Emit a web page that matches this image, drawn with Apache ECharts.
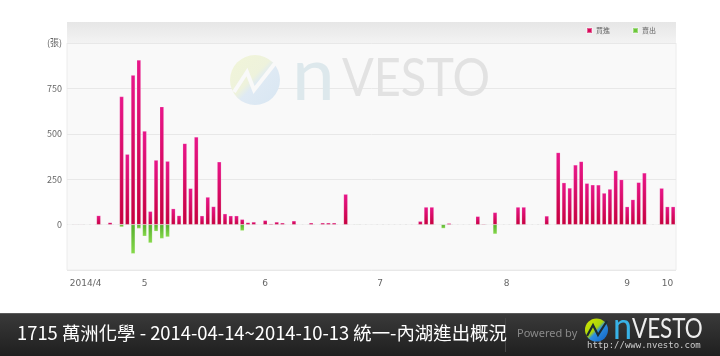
<!DOCTYPE html>
<html>
<head>
<meta charset="utf-8">
<script src="https://cdn.jsdelivr.net/npm/echarts@6/dist/echarts.min.js"></script>
<style>
html,body{margin:0;padding:0;background:#fff;}
#c{width:720px;height:356px;}
</style>
</head>
<body>
<div id="c"></div>
<script>
// Daily buy (買進) and sell (賣出) volumes in 張, one entry per trading-day slot
const buyVals = [
  0, 3, 3, 0, 0, 50, 0, 12, 2, 705,
  388, 823, 906, 515, 73, 355, 649, 349, 88, 50,
  447, 200, 483, 49, 152, 100, 346, 60, 49, 49,
  29, 12, 15, 0, 24, 5, 15, 10, 0, 21,
  0, 0, 10, 0, 10, 10, 10, 0, 168, 0,
  0, 0, 0, 0, 0, 0, 0, 0, 0, 0,
  0, 19, 97, 97, 0, 0, 8, 0, 0, 0,
  2, 46, 4, 0, 67, 0, 2, 0, 97, 97,
  0, 0, 0, 48, 0, 397, 231, 202, 329, 348,
  228, 219, 219, 174, 196, 298, 248, 99, 138, 233,
  285, 0, 0, 201, 99, 99
];
const sellVals = [
  0, 0, 0, 0, 0, 0, 0, 0, 0, -13,
  0, -160, -22, -64, -101, -37, -77, -68, 0, 0,
  0, 0, 0, 0, 0, 0, 0, 0, 0, 0,
  -34, 0, 0, 0, 0, 0, 0, 0, 0, 0,
  0, 0, 0, 0, 0, 0, 0, 0, 0, 0,
  -3, 0, 0, 0, 0, 0, 0, 0, 0, 0,
  0, 0, 0, 0, 0, -21, 0, 0, 0, 0,
  0, 0, 0, 0, -52, 0, 0, 0, 0, 0,
  0, 0, 0, 0, 0, 0, 0, 0, 0, 0,
  0, -2, 0, 0, 0, 0, 0, 0, 0, 0,
  0, 0, 0, 0, 0, 0
];
// x tick labels: [slot index, text]
const monthTicks = [[0, '2014/4'], [13, '5'], [34, '6'], [54, '7'], [76, '8'], [97, '9'], [104, '10']];
const yTopLabel = '(張)';
const seriesNames = ['買進', '賣出'];
const titleText = '1715 萬洲化學 - 2014-04-14~2014-10-13 統一-內湖進出概況';

const categories = buyVals.map((_, i) => 'd' + i);
const tickMap = {};
monthTicks.forEach(t => { tickMap[t[0]] = t[1]; });

const chart = echarts.init(document.getElementById('c'), null, {renderer: 'canvas'});

const redGrad = new echarts.graphic.LinearGradient(0, 0, 0, 1, [
  {offset: 0, color: '#e8168a'}, {offset: 1, color: '#c6003e'}
]);
const greenGrad = new echarts.graphic.LinearGradient(0, 0, 0, 1, [
  {offset: 0, color: '#55ad2c'}, {offset: 1, color: '#86d94a'}
]);

const option = {
  animation: false,
  backgroundColor: '#ffffff',
  grid: {
    left: 67, right: 44, top: 43, bottom: 86,
    show: true, backgroundColor: '#f9f9f9', borderColor: '#ececec', borderWidth: 1
  },
  legend: {
    left: 586, top: 27, padding: 0,
    itemWidth: 5, itemHeight: 5, itemGap: 22,
    icon: 'rect',
    textStyle: {fontSize: 7, color: '#666', fontFamily: 'Noto Sans CJK TC', padding: [0, 0, 0, -1]},
    data: [
      {name: seriesNames[0], itemStyle: {color: '#d8085a'}},
      {name: seriesNames[1], itemStyle: {color: '#6cc63a'}}
    ]
  },
  xAxis: {
    type: 'category',
    data: categories,
    boundaryGap: true,
    axisLine: {show: false},
    axisTick: {show: false},
    splitLine: {show: false},
    axisLabel: {
      interval: (idx) => tickMap[idx] !== undefined,
      formatter: (v, idx) => tickMap[idx] !== undefined ? tickMap[idx] : '',
      fontSize: 9, color: '#666', margin: 9,
      fontFamily: 'DejaVu Sans',
      alignMinLabel: 'left'
    }
  },
  yAxis: {
    type: 'value',
    min: -250, max: 1000, interval: 250,
    axisLine: {show: false},
    axisTick: {show: false},
    splitLine: {lineStyle: {color: '#e8e8e8', width: 1}},
    axisLabel: {
      formatter: (v) => v === 1000 ? yTopLabel : (v < 0 ? '' : String(v)),
      fontSize: 9, color: '#666', margin: 5,
      fontFamily: 'Noto Sans CJK TC'
    }
  },
  graphic: [
    // header strip of the panel
    {type: 'rect', z: 1, shape: {x: 67, y: 22, width: 609, height: 21},
      style: {fill: new echarts.graphic.LinearGradient(0, 0, 0, 1, [
        {offset: 0, color: '#e6e6e6'}, {offset: 1, color: '#f3f3f3'}])}},
    // watermark logo
    {type: 'circle', z: 1, shape: {cx: 255, cy: 80, r: 25},
      style: {fill: new echarts.graphic.LinearGradient(0, 0, 1, 1, [
        {offset: 0, color: '#f1f5d8'}, {offset: 0.45, color: '#eef2dc'},
        {offset: 0.55, color: '#dfeaf4'}, {offset: 1, color: '#d8e6f2'}])}},
    {type: 'polyline', z: 1, shape: {points: [[234, 92], [247, 72], [254, 90], [276, 62]]},
      style: {stroke: '#f9f9f9', lineWidth: 4, fill: null}},
    {type: 'text', z: 1, x: 292, y: 76, scaleX: 1.05,
      style: {text: 'n', fontSize: 73, fontFamily: 'Lato', fill: '#dde8ec', verticalAlign: 'middle'}},
    {type: 'text', z: 1, x: 342, y: 79, scaleX: 0.885,
      style: {text: 'VESTO', fontSize: 53, fontFamily: 'Lato', fill: '#e2e2e2', verticalAlign: 'middle'}},
    // footer
    {type: 'rect', z: 10, shape: {x: 0, y: 313, width: 720, height: 43},
      style: {fill: new echarts.graphic.LinearGradient(0, 0, 0, 1, [
        {offset: 0, color: '#3a3a3a'}, {offset: 1, color: '#1f1f1f'}])}},
    {type: 'rect', z: 11, shape: {x: 0, y: 313, width: 720, height: 1}, style: {fill: '#5a5a5a'}},
    {type: 'rect', z: 11, shape: {x: 505, y: 318, width: 1, height: 34}, style: {fill: '#444'}},
    {type: 'text', z: 11, x: 17, y: 333,
      style: {text: titleText, fill: '#ffffff', fontSize: 18.4, fontFamily: 'Noto Sans CJK TC',
        verticalAlign: 'middle'}},
    {type: 'text', z: 11, x: 517, y: 334,
      style: {text: 'Powered by', fill: '#8a8a8a', fontSize: 11, fontFamily: 'Noto Sans',
        verticalAlign: 'middle'}},
    {type: 'circle', z: 11, shape: {cx: 596.5, cy: 330, r: 11.5},
      style: {fill: new echarts.graphic.LinearGradient(0, 0, 1, 1, [
        {offset: 0, color: '#d6e600'}, {offset: 0.45, color: '#a8d40c'},
        {offset: 0.55, color: '#2d8ee0'}, {offset: 1, color: '#1060c0'}])}},
    {type: 'polyline', z: 12, shape: {points: [[587, 336], [593, 325], [598, 335], [607, 321]]},
      style: {stroke: '#1c2a30', lineWidth: 2.2, fill: null}},
    {type: 'text', z: 11, x: 613, y: 327, scaleX: 0.95,
      style: {text: 'n', fontSize: 36, fontFamily: 'Lato', fill: '#38b2e6', verticalAlign: 'middle'}},
    {type: 'text', z: 11, x: 632, y: 329, scaleX: 0.83,
      style: {text: 'VESTO', fontSize: 27, fontFamily: 'Lato', fill: '#eeeeee', verticalAlign: 'middle'}},
    {type: 'text', z: 11, x: 587, y: 346,
      style: {text: 'http://www.nvesto.com', fill: '#cccccc', fontSize: 9,
        fontFamily: 'DejaVu Sans Mono', verticalAlign: 'middle'}}
  ],
  series: [
    {
      name: seriesNames[0], type: 'bar', stack: 'v', data: buyVals,
      barWidth: '72%', z: 3,
      itemStyle: {color: redGrad, borderColor: 'rgba(255,255,255,0.35)', borderWidth: 0.5}
    },
    {
      name: seriesNames[1], type: 'bar', stack: 'v', data: sellVals,
      barWidth: '72%', z: 3,
      itemStyle: {color: greenGrad, borderColor: 'rgba(255,255,255,0.35)', borderWidth: 0.5}
    }
  ]
};
chart.setOption(option);
</script>
</body>
</html>
